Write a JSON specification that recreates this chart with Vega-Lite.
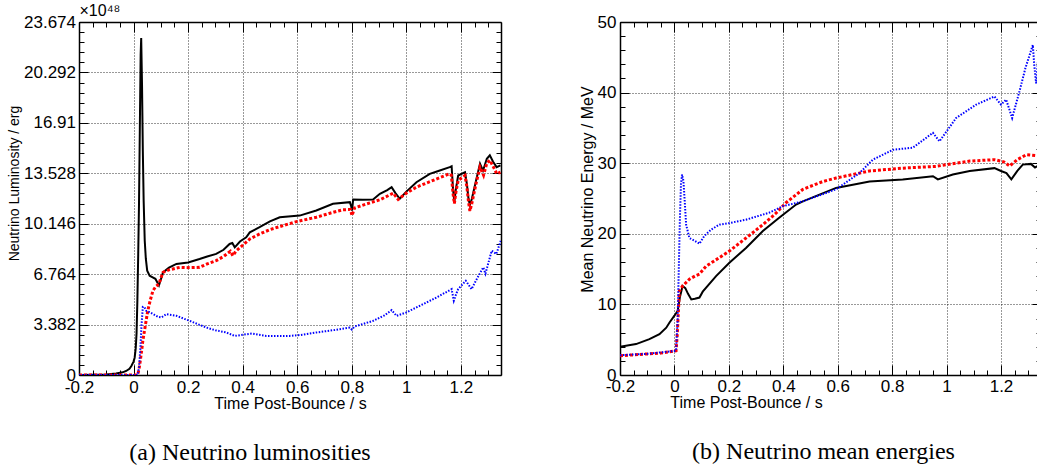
{
  "$schema": "https://vega.github.io/schema/vega-lite/v6.json",
  "padding": {"left": 7, "top": 2, "right": 0, "bottom": 0},
  "background": "white",
  "spacing": 75,
  "config": {"view": {"stroke": null}, "font": "Liberation Sans"},
  "datasets": {
    "lum": [
      {"t": -0.2, "v": 0, "s": "nue"}, {"t": -0.15, "v": 0.01, "s": "nue"}, {"t": -0.1, "v": 0.03, "s": "nue"}, {"t": -0.064, "v": 0.1, "s": "nue"}, {"t": -0.04, "v": 0.18, "s": "nue"}, {"t": -0.027, "v": 0.27, "s": "nue"}, {"t": -0.015, "v": 0.42, "s": "nue"}, {"t": -0.008, "v": 0.6, "s": "nue"}, {"t": 0.0, "v": 0.9, "s": "nue"}, {"t": 0.004, "v": 1.16, "s": "nue"}, {"t": 0.008, "v": 1.8, "s": "nue"}, {"t": 0.011, "v": 2.8, "s": "nue"}, {"t": 0.014, "v": 5.0, "s": "nue"}, {"t": 0.017, "v": 8.0, "s": "nue"}, {"t": 0.02, "v": 11.5, "s": "nue"}, {"t": 0.023, "v": 16.5, "s": "nue"}, {"t": 0.026, "v": 21.5, "s": "nue"}, {"t": 0.028, "v": 22.6, "s": "nue"}, {"t": 0.031, "v": 19.5, "s": "nue"}, {"t": 0.034, "v": 15.0, "s": "nue"}, {"t": 0.037, "v": 11.7, "s": "nue"}, {"t": 0.041, "v": 9.0, "s": "nue"}, {"t": 0.045, "v": 7.8, "s": "nue"}, {"t": 0.05, "v": 7.0, "s": "nue"}, {"t": 0.059, "v": 6.66, "s": "nue"}, {"t": 0.07, "v": 6.55, "s": "nue"}, {"t": 0.08, "v": 6.45, "s": "nue"}, {"t": 0.093, "v": 6.0, "s": "nue"}, {"t": 0.1, "v": 6.4, "s": "nue"}, {"t": 0.108, "v": 6.88, "s": "nue"}, {"t": 0.13, "v": 7.2, "s": "nue"}, {"t": 0.157, "v": 7.45, "s": "nue"}, {"t": 0.2, "v": 7.55, "s": "nue"}, {"t": 0.242, "v": 7.78, "s": "nue"}, {"t": 0.27, "v": 7.95, "s": "nue"}, {"t": 0.303, "v": 8.12, "s": "nue"}, {"t": 0.33, "v": 8.4, "s": "nue"}, {"t": 0.352, "v": 8.79, "s": "nue"}, {"t": 0.362, "v": 8.85, "s": "nue"}, {"t": 0.371, "v": 8.56, "s": "nue"}, {"t": 0.39, "v": 8.95, "s": "nue"}, {"t": 0.413, "v": 9.24, "s": "nue"}, {"t": 0.426, "v": 9.57, "s": "nue"}, {"t": 0.462, "v": 9.91, "s": "nue"}, {"t": 0.5, "v": 10.3, "s": "nue"}, {"t": 0.536, "v": 10.58, "s": "nue"}, {"t": 0.609, "v": 10.69, "s": "nue"}, {"t": 0.67, "v": 11.03, "s": "nue"}, {"t": 0.731, "v": 11.48, "s": "nue"}, {"t": 0.793, "v": 11.59, "s": "nue"}, {"t": 0.798, "v": 11.3, "s": "nue"}, {"t": 0.801, "v": 11.03, "s": "nue"}, {"t": 0.805, "v": 11.77, "s": "nue"}, {"t": 0.84, "v": 11.75, "s": "nue"}, {"t": 0.878, "v": 11.77, "s": "nue"}, {"t": 0.903, "v": 12.15, "s": "nue"}, {"t": 0.93, "v": 12.4, "s": "nue"}, {"t": 0.946, "v": 12.6, "s": "nue"}, {"t": 0.96, "v": 12.2, "s": "nue"}, {"t": 0.976, "v": 11.82, "s": "nue"}, {"t": 1.0, "v": 12.3, "s": "nue"}, {"t": 1.037, "v": 12.93, "s": "nue"}, {"t": 1.086, "v": 13.49, "s": "nue"}, {"t": 1.12, "v": 13.7, "s": "nue"}, {"t": 1.159, "v": 13.94, "s": "nue"}, {"t": 1.166, "v": 14.0, "s": "nue"}, {"t": 1.171, "v": 12.5, "s": "nue"}, {"t": 1.176, "v": 11.6, "s": "nue"}, {"t": 1.181, "v": 12.4, "s": "nue"}, {"t": 1.19, "v": 13.38, "s": "nue"}, {"t": 1.215, "v": 13.6, "s": "nue"}, {"t": 1.222, "v": 12.8, "s": "nue"}, {"t": 1.228, "v": 11.8, "s": "nue"}, {"t": 1.233, "v": 11.4, "s": "nue"}, {"t": 1.24, "v": 11.8, "s": "nue"}, {"t": 1.255, "v": 13.0, "s": "nue"}, {"t": 1.27, "v": 14.17, "s": "nue"}, {"t": 1.281, "v": 13.7, "s": "nue"}, {"t": 1.295, "v": 14.5, "s": "nue"}, {"t": 1.306, "v": 14.73, "s": "nue"}, {"t": 1.318, "v": 14.3, "s": "nue"}, {"t": 1.331, "v": 13.94, "s": "nue"}, {"t": 1.345, "v": 14.06, "s": "nue"},
      {"t": -0.2, "v": 0, "s": "anue"}, {"t": 0.0, "v": 0, "s": "anue"}, {"t": 0.012, "v": 0, "s": "anue"}, {"t": 0.016, "v": 0.05, "s": "anue"}, {"t": 0.022, "v": 0.6, "s": "anue"}, {"t": 0.028, "v": 1.4, "s": "anue"}, {"t": 0.034, "v": 2.29, "s": "anue"}, {"t": 0.043, "v": 3.3, "s": "anue"}, {"t": 0.052, "v": 4.3, "s": "anue"}, {"t": 0.061, "v": 5.0, "s": "anue"}, {"t": 0.071, "v": 5.65, "s": "anue"}, {"t": 0.082, "v": 5.95, "s": "anue"}, {"t": 0.093, "v": 6.1, "s": "anue"}, {"t": 0.1, "v": 6.5, "s": "anue"}, {"t": 0.108, "v": 6.88, "s": "anue"}, {"t": 0.13, "v": 7.05, "s": "anue"}, {"t": 0.169, "v": 7.22, "s": "anue"}, {"t": 0.2, "v": 7.2, "s": "anue"}, {"t": 0.242, "v": 7.22, "s": "anue"}, {"t": 0.27, "v": 7.45, "s": "anue"}, {"t": 0.303, "v": 7.67, "s": "anue"}, {"t": 0.33, "v": 7.95, "s": "anue"}, {"t": 0.355, "v": 8.3, "s": "anue"}, {"t": 0.364, "v": 8.0, "s": "anue"}, {"t": 0.375, "v": 8.3, "s": "anue"}, {"t": 0.4, "v": 8.7, "s": "anue"}, {"t": 0.426, "v": 9.12, "s": "anue"}, {"t": 0.462, "v": 9.46, "s": "anue"}, {"t": 0.5, "v": 9.75, "s": "anue"}, {"t": 0.548, "v": 10.02, "s": "anue"}, {"t": 0.6, "v": 10.3, "s": "anue"}, {"t": 0.67, "v": 10.58, "s": "anue"}, {"t": 0.72, "v": 10.85, "s": "anue"}, {"t": 0.767, "v": 11.08, "s": "anue"}, {"t": 0.795, "v": 11.1, "s": "anue"}, {"t": 0.801, "v": 10.69, "s": "anue"}, {"t": 0.81, "v": 11.2, "s": "anue"}, {"t": 0.85, "v": 11.45, "s": "anue"}, {"t": 0.903, "v": 11.75, "s": "anue"}, {"t": 0.952, "v": 12.2, "s": "anue"}, {"t": 0.97, "v": 11.77, "s": "anue"}, {"t": 1.0, "v": 12.2, "s": "anue"}, {"t": 1.037, "v": 12.6, "s": "anue"}, {"t": 1.098, "v": 13.05, "s": "anue"}, {"t": 1.159, "v": 13.5, "s": "anue"}, {"t": 1.165, "v": 13.4, "s": "anue"}, {"t": 1.171, "v": 12.2, "s": "anue"}, {"t": 1.176, "v": 11.5, "s": "anue"}, {"t": 1.182, "v": 12.3, "s": "anue"}, {"t": 1.19, "v": 13.05, "s": "anue"}, {"t": 1.215, "v": 13.38, "s": "anue"}, {"t": 1.222, "v": 12.6, "s": "anue"}, {"t": 1.228, "v": 11.6, "s": "anue"}, {"t": 1.233, "v": 11.0, "s": "anue"}, {"t": 1.24, "v": 11.5, "s": "anue"}, {"t": 1.255, "v": 12.8, "s": "anue"}, {"t": 1.27, "v": 13.94, "s": "anue"}, {"t": 1.283, "v": 13.4, "s": "anue"}, {"t": 1.295, "v": 14.2, "s": "anue"}, {"t": 1.306, "v": 14.4, "s": "anue"}, {"t": 1.318, "v": 14.0, "s": "anue"}, {"t": 1.331, "v": 13.5, "s": "anue"}, {"t": 1.345, "v": 13.6, "s": "anue"},
      {"t": -0.2, "v": 0, "s": "nux"}, {"t": 0.0, "v": 0, "s": "nux"}, {"t": 0.015, "v": 0, "s": "nux"}, {"t": 0.02, "v": 0.5, "s": "nux"}, {"t": 0.025, "v": 1.8, "s": "nux"}, {"t": 0.029, "v": 3.3, "s": "nux"}, {"t": 0.034, "v": 4.57, "s": "nux"}, {"t": 0.04, "v": 4.55, "s": "nux"}, {"t": 0.047, "v": 4.3, "s": "nux"}, {"t": 0.06, "v": 4.2, "s": "nux"}, {"t": 0.075, "v": 4.05, "s": "nux"}, {"t": 0.09, "v": 3.9, "s": "nux"}, {"t": 0.102, "v": 3.86, "s": "nux"}, {"t": 0.12, "v": 4.08, "s": "nux"}, {"t": 0.157, "v": 3.97, "s": "nux"}, {"t": 0.206, "v": 3.63, "s": "nux"}, {"t": 0.267, "v": 3.18, "s": "nux"}, {"t": 0.3, "v": 3.0, "s": "nux"}, {"t": 0.34, "v": 2.85, "s": "nux"}, {"t": 0.371, "v": 2.62, "s": "nux"}, {"t": 0.4, "v": 2.7, "s": "nux"}, {"t": 0.435, "v": 2.78, "s": "nux"}, {"t": 0.487, "v": 2.62, "s": "nux"}, {"t": 0.572, "v": 2.62, "s": "nux"}, {"t": 0.62, "v": 2.7, "s": "nux"}, {"t": 0.67, "v": 2.85, "s": "nux"}, {"t": 0.73, "v": 3.0, "s": "nux"}, {"t": 0.793, "v": 3.18, "s": "nux"}, {"t": 0.8, "v": 3.05, "s": "nux"}, {"t": 0.81, "v": 3.25, "s": "nux"}, {"t": 0.878, "v": 3.63, "s": "nux"}, {"t": 0.92, "v": 4.0, "s": "nux"}, {"t": 0.946, "v": 4.35, "s": "nux"}, {"t": 0.964, "v": 3.97, "s": "nux"}, {"t": 1.0, "v": 4.2, "s": "nux"}, {"t": 1.037, "v": 4.53, "s": "nux"}, {"t": 1.111, "v": 5.2, "s": "nux"}, {"t": 1.166, "v": 5.76, "s": "nux"}, {"t": 1.174, "v": 4.98, "s": "nux"}, {"t": 1.182, "v": 5.4, "s": "nux"}, {"t": 1.19, "v": 5.76, "s": "nux"}, {"t": 1.218, "v": 6.32, "s": "nux"}, {"t": 1.239, "v": 5.76, "s": "nux"}, {"t": 1.26, "v": 6.5, "s": "nux"}, {"t": 1.282, "v": 7.22, "s": "nux"}, {"t": 1.29, "v": 6.8, "s": "nux"}, {"t": 1.313, "v": 8.34, "s": "nux"}, {"t": 1.33, "v": 8.12, "s": "nux"}, {"t": 1.346, "v": 9.0, "s": "nux"}
    ],
    "en": [
      {"t": -0.2, "v": 4.0, "s": "nue"}, {"t": -0.141, "v": 4.38, "s": "nue"}, {"t": -0.092, "v": 5.08, "s": "nue"}, {"t": -0.055, "v": 5.79, "s": "nue"}, {"t": -0.03, "v": 6.7, "s": "nue"}, {"t": -0.018, "v": 7.44, "s": "nue"}, {"t": 0.0, "v": 8.4, "s": "nue"}, {"t": 0.012, "v": 9.08, "s": "nue"}, {"t": 0.02, "v": 11.0, "s": "nue"}, {"t": 0.03, "v": 12.6, "s": "nue"}, {"t": 0.04, "v": 12.3, "s": "nue"}, {"t": 0.05, "v": 11.5, "s": "nue"}, {"t": 0.062, "v": 10.7, "s": "nue"}, {"t": 0.075, "v": 10.8, "s": "nue"}, {"t": 0.092, "v": 10.97, "s": "nue"}, {"t": 0.104, "v": 11.8, "s": "nue"}, {"t": 0.153, "v": 14.0, "s": "nue"}, {"t": 0.202, "v": 15.9, "s": "nue"}, {"t": 0.263, "v": 18.0, "s": "nue"}, {"t": 0.325, "v": 20.4, "s": "nue"}, {"t": 0.386, "v": 22.3, "s": "nue"}, {"t": 0.447, "v": 24.15, "s": "nue"}, {"t": 0.472, "v": 24.6, "s": "nue"}, {"t": 0.594, "v": 26.5, "s": "nue"}, {"t": 0.717, "v": 27.4, "s": "nue"}, {"t": 0.839, "v": 27.7, "s": "nue"}, {"t": 0.95, "v": 28.15, "s": "nue"}, {"t": 0.968, "v": 27.7, "s": "nue"}, {"t": 1.023, "v": 28.4, "s": "nue"}, {"t": 1.085, "v": 28.9, "s": "nue"}, {"t": 1.176, "v": 29.3, "s": "nue"}, {"t": 1.2, "v": 28.9, "s": "nue"}, {"t": 1.22, "v": 28.6, "s": "nue"}, {"t": 1.238, "v": 27.7, "s": "nue"}, {"t": 1.26, "v": 28.9, "s": "nue"}, {"t": 1.28, "v": 29.8, "s": "nue"}, {"t": 1.31, "v": 29.9, "s": "nue"}, {"t": 1.325, "v": 29.4, "s": "nue"}, {"t": 1.345, "v": 29.8, "s": "nue"},
      {"t": -0.2, "v": 2.73, "s": "anue"}, {"t": -0.104, "v": 2.97, "s": "anue"}, {"t": -0.05, "v": 3.1, "s": "anue"}, {"t": 0.006, "v": 3.43, "s": "anue"}, {"t": 0.01, "v": 5.5, "s": "anue"}, {"t": 0.014, "v": 8.5, "s": "anue"}, {"t": 0.018, "v": 11.9, "s": "anue"}, {"t": 0.03, "v": 12.6, "s": "anue"}, {"t": 0.055, "v": 13.56, "s": "anue"}, {"t": 0.075, "v": 14.0, "s": "anue"}, {"t": 0.092, "v": 14.3, "s": "anue"}, {"t": 0.116, "v": 15.4, "s": "anue"}, {"t": 0.16, "v": 16.5, "s": "anue"}, {"t": 0.202, "v": 17.56, "s": "anue"}, {"t": 0.263, "v": 19.4, "s": "anue"}, {"t": 0.325, "v": 21.3, "s": "anue"}, {"t": 0.37, "v": 22.8, "s": "anue"}, {"t": 0.41, "v": 24.4, "s": "anue"}, {"t": 0.472, "v": 26.3, "s": "anue"}, {"t": 0.545, "v": 27.4, "s": "anue"}, {"t": 0.594, "v": 27.9, "s": "anue"}, {"t": 0.717, "v": 28.9, "s": "anue"}, {"t": 0.839, "v": 29.3, "s": "anue"}, {"t": 0.961, "v": 29.55, "s": "anue"}, {"t": 1.085, "v": 30.3, "s": "anue"}, {"t": 1.176, "v": 30.5, "s": "anue"}, {"t": 1.21, "v": 30.2, "s": "anue"}, {"t": 1.232, "v": 29.6, "s": "anue"}, {"t": 1.26, "v": 30.5, "s": "anue"}, {"t": 1.293, "v": 31.2, "s": "anue"}, {"t": 1.345, "v": 31.0, "s": "anue"},
      {"t": -0.2, "v": 2.8, "s": "nux"}, {"t": -0.1, "v": 3.0, "s": "nux"}, {"t": 0.0, "v": 3.4, "s": "nux"}, {"t": 0.006, "v": 3.5, "s": "nux"}, {"t": 0.012, "v": 8.0, "s": "nux"}, {"t": 0.016, "v": 15.0, "s": "nux"}, {"t": 0.02, "v": 22.0, "s": "nux"}, {"t": 0.024, "v": 27.0, "s": "nux"}, {"t": 0.028, "v": 28.4, "s": "nux"}, {"t": 0.033, "v": 27.5, "s": "nux"}, {"t": 0.038, "v": 24.5, "s": "nux"}, {"t": 0.043, "v": 21.3, "s": "nux"}, {"t": 0.055, "v": 19.4, "s": "nux"}, {"t": 0.075, "v": 19.0, "s": "nux"}, {"t": 0.092, "v": 18.6, "s": "nux"}, {"t": 0.11, "v": 19.7, "s": "nux"}, {"t": 0.135, "v": 20.6, "s": "nux"}, {"t": 0.165, "v": 21.3, "s": "nux"}, {"t": 0.2, "v": 21.5, "s": "nux"}, {"t": 0.263, "v": 22.0, "s": "nux"}, {"t": 0.349, "v": 23.0, "s": "nux"}, {"t": 0.398, "v": 23.9, "s": "nux"}, {"t": 0.472, "v": 24.6, "s": "nux"}, {"t": 0.594, "v": 26.3, "s": "nux"}, {"t": 0.68, "v": 28.6, "s": "nux"}, {"t": 0.729, "v": 30.5, "s": "nux"}, {"t": 0.803, "v": 31.9, "s": "nux"}, {"t": 0.876, "v": 32.2, "s": "nux"}, {"t": 0.95, "v": 34.3, "s": "nux"}, {"t": 0.974, "v": 33.1, "s": "nux"}, {"t": 1.035, "v": 36.4, "s": "nux"}, {"t": 1.109, "v": 38.3, "s": "nux"}, {"t": 1.176, "v": 39.45, "s": "nux"}, {"t": 1.2, "v": 38.3, "s": "nux"}, {"t": 1.219, "v": 39.0, "s": "nux"}, {"t": 1.241, "v": 36.4, "s": "nux"}, {"t": 1.268, "v": 40.2, "s": "nux"}, {"t": 1.29, "v": 43.5, "s": "nux"}, {"t": 1.317, "v": 46.75, "s": "nux"}, {"t": 1.322, "v": 44.0, "s": "nux"}, {"t": 1.329, "v": 41.3, "s": "nux"}, {"t": 1.337, "v": 45.0, "s": "nux"}, {"t": 1.345, "v": 44.5, "s": "nux"}
    ]
  },
  "hconcat": [
    {
      "width": 422,
      "height": 353,
      "data": {"name": "lum"},
      "title": {"text": "(a) Neutrino luminosities", "orient": "bottom", "frame": "group", "anchor": "middle", "dx": -40, "offset": 30, "font": "Liberation Serif", "fontSize": 24, "fontWeight": "normal", "color": "black"},
      "resolve": {"axis": {"x": "independent", "y": "independent"}},
      "layer": [
        {
          "transform": [{"filter": "datum.s === 'nue'"}],
          "mark": {"type": "line", "color": "black", "strokeWidth": 2, "clip": true},
          "encoding": {
            "x": {"field": "t", "type": "quantitative", "scale": {"domain": [-0.2, 1.347], "nice": false, "zero": false},
              "axis": {"orient": "bottom", "values": [-0.2, 0, 0.2, 0.4, 0.6, 0.8, 1, 1.2], "labelExpr": "'' + datum.value", "labelFont": "Liberation Sans", "labelFontSize": 17, "labelColor": "black", "labelPadding": 14, "labelFlush": false, "labelOverlap": false, "tickSize": -10, "tickColor": "black", "tickWidth": 1, "domainColor": "black", "domainWidth": 1.5, "grid": true, "gridColor": "black", "gridDash": [1, 2], "gridWidth": 1, "gridOpacity": 0.8, "title": "Time Post-Bounce / s", "titleFont": "Liberation Sans", "titleFontSize": 16, "titleFontWeight": "normal", "titleColor": "black", "titlePadding": 0}},
            "y": {"field": "v", "type": "quantitative", "scale": {"domain": [0, 23.674], "nice": false, "zero": false},
              "axis": {"orient": "left", "values": [0, 3.382, 6.764, 10.146, 13.528, 16.91, 20.292, 23.674], "labelExpr": "'' + datum.value", "labelFont": "Liberation Sans", "labelFontSize": 17, "labelColor": "black", "labelPadding": 12.5, "labelOverlap": false, "tickSize": -9, "tickColor": "black", "tickWidth": 1, "domainColor": "black", "domainWidth": 1.5, "grid": true, "gridColor": "black", "gridDash": [1, 2], "gridWidth": 1, "gridOpacity": 0.8, "title": "Neutrino Luminosity / erg", "titleY": 161, "titleFont": "Liberation Sans", "titleFontSize": 14, "titleFontWeight": "normal", "titleColor": "black", "titlePadding": 2}}
          }
        },
        {
          "transform": [{"filter": "datum.s === 'anue'"}],
          "mark": {"type": "line", "color": "#ff0000", "strokeWidth": 3, "strokeDash": [3, 2], "clip": true},
          "encoding": {
            "x": {"field": "t", "type": "quantitative", "scale": {"domain": [-0.2, 1.347], "nice": false, "zero": false}, "axis": null},
            "y": {"field": "v", "type": "quantitative", "scale": {"domain": [0, 23.674], "nice": false, "zero": false}, "axis": null}
          }
        },
        {
          "transform": [{"filter": "datum.s === 'nux'"}],
          "mark": {"type": "line", "color": "#0000ff", "strokeWidth": 2, "strokeDash": [1.5, 1.5], "clip": true},
          "encoding": {
            "x": {"field": "t", "type": "quantitative", "scale": {"domain": [-0.2, 1.347], "nice": false, "zero": false}, "axis": null},
            "y": {"field": "v", "type": "quantitative", "scale": {"domain": [0, 23.674], "nice": false, "zero": false}, "axis": null}
          }
        },
        {
          "mark": {"type": "point", "opacity": 0},
          "encoding": {
            "x": {"field": "t", "type": "quantitative", "scale": {"domain": [-0.2, 1.347], "nice": false, "zero": false},
              "axis": {"orient": "bottom", "values": [-0.15, -0.1, -0.05, 0.05, 0.1, 0.15, 0.25, 0.3, 0.35, 0.45, 0.5, 0.55, 0.65, 0.7, 0.75, 0.85, 0.9, 0.95, 1.05, 1.1, 1.15, 1.25, 1.3], "labels": false, "tickSize": -5, "tickColor": "black", "tickWidth": 1, "domain": false, "grid": false, "title": null}},
            "y": {"field": "v", "type": "quantitative", "scale": {"domain": [0, 23.674], "nice": false, "zero": false},
              "axis": {"orient": "left", "values": [0.6764, 1.3528, 2.0292, 2.7056, 4.0584, 4.7348, 5.4112, 6.0876, 7.4404, 8.1168, 8.7932, 9.4696, 10.8224, 11.4988, 12.1752, 12.8516, 14.2044, 14.8808, 15.5572, 16.2336, 17.5864, 18.2628, 18.9392, 19.6156, 20.9684, 21.6448, 22.3212, 22.9976], "labels": false, "tickSize": -5, "tickColor": "black", "tickWidth": 1, "domain": false, "grid": false, "title": null}}
          }
        },
        {
          "mark": {"type": "point", "opacity": 0},
          "encoding": {
            "x": {"field": "t", "type": "quantitative", "scale": {"domain": [-0.2, 1.347], "nice": false, "zero": false},
              "axis": {"orient": "top", "values": [-0.2, 0, 0.2, 0.4, 0.6, 0.8, 1, 1.2], "labels": false, "tickSize": -10, "tickColor": "black", "tickWidth": 1, "domainColor": "black", "domainWidth": 1.5, "grid": false, "title": "×10⁴⁸", "titleAnchor": "start", "titleAlign": "left", "titleFont": "Liberation Sans", "titleFontSize": 16, "titleFontWeight": "normal", "titleColor": "black", "titlePadding": 3}},
            "y": {"field": "v", "type": "quantitative", "scale": {"domain": [0, 23.674], "nice": false, "zero": false},
              "axis": {"orient": "right", "values": [0, 3.382, 6.764, 10.146, 13.528, 16.91, 20.292, 23.674], "labels": false, "tickSize": -9, "tickColor": "black", "tickWidth": 1, "domainColor": "black", "domainWidth": 1.5, "grid": false, "title": null}}
          }
        },
        {
          "mark": {"type": "point", "opacity": 0},
          "encoding": {
            "x": {"field": "t", "type": "quantitative", "scale": {"domain": [-0.2, 1.347], "nice": false, "zero": false},
              "axis": {"orient": "top", "values": [-0.15, -0.1, -0.05, 0.05, 0.1, 0.15, 0.25, 0.3, 0.35, 0.45, 0.5, 0.55, 0.65, 0.7, 0.75, 0.85, 0.9, 0.95, 1.05, 1.1, 1.15, 1.25, 1.3], "labels": false, "tickSize": -5, "tickColor": "black", "tickWidth": 1, "domain": false, "grid": false, "title": null}},
            "y": {"field": "v", "type": "quantitative", "scale": {"domain": [0, 23.674], "nice": false, "zero": false},
              "axis": {"orient": "right", "values": [0.6764, 1.3528, 2.0292, 2.7056, 4.0584, 4.7348, 5.4112, 6.0876, 7.4404, 8.1168, 8.7932, 9.4696, 10.8224, 11.4988, 12.1752, 12.8516, 14.2044, 14.8808, 15.5572, 16.2336, 17.5864, 18.2628, 18.9392, 19.6156, 20.9684, 21.6448, 22.3212, 22.9976], "labels": false, "tickSize": -5, "tickColor": "black", "tickWidth": 1, "domain": false, "grid": false, "title": null}}
          }
        }
      ]
    },
    {
      "width": 421,
      "height": 353,
      "data": {"name": "en"},
      "title": {"text": "(b) Neutrino mean energies", "orient": "bottom", "frame": "group", "anchor": "middle", "dx": -7, "offset": 30, "font": "Liberation Serif", "fontSize": 24, "fontWeight": "normal", "color": "black"},
      "resolve": {"axis": {"x": "independent", "y": "independent"}},
      "layer": [
        {
          "transform": [{"filter": "datum.s === 'nue'"}],
          "mark": {"type": "line", "color": "black", "strokeWidth": 2, "clip": true},
          "encoding": {
            "x": {"field": "t", "type": "quantitative", "scale": {"domain": [-0.2, 1.347], "nice": false, "zero": false},
              "axis": {"orient": "bottom", "values": [-0.2, 0, 0.2, 0.4, 0.6, 0.8, 1, 1.2], "labelExpr": "'' + datum.value", "labelFont": "Liberation Sans", "labelFontSize": 17, "labelColor": "black", "labelPadding": 13, "labelFlush": false, "labelOverlap": false, "tickSize": -10, "tickColor": "black", "tickWidth": 1, "domainColor": "black", "domainWidth": 1.5, "grid": true, "gridColor": "black", "gridDash": [1, 2], "gridWidth": 1, "gridOpacity": 0.8, "title": "Time Post-Bounce / s", "titleX": 126, "titleFont": "Liberation Sans", "titleFontSize": 16, "titleFontWeight": "normal", "titleColor": "black", "titlePadding": 0}},
            "y": {"field": "v", "type": "quantitative", "scale": {"domain": [0, 50], "nice": false, "zero": false},
              "axis": {"orient": "left", "values": [0, 10, 20, 30, 40, 50], "labelExpr": "'' + datum.value", "labelFont": "Liberation Sans", "labelFontSize": 17, "labelColor": "black", "labelPadding": 13, "labelOverlap": false, "tickSize": -9, "tickColor": "black", "tickWidth": 1, "domainColor": "black", "domainWidth": 1.5, "grid": true, "gridColor": "black", "gridDash": [1, 2], "gridWidth": 1, "gridOpacity": 0.8, "title": "Mean Neutrino Energy / MeV", "titleY": 167, "titleFont": "Liberation Sans", "titleFontSize": 16, "titleFontWeight": "normal", "titleColor": "black", "titlePadding": 2}}
          }
        },
        {
          "transform": [{"filter": "datum.s === 'anue'"}],
          "mark": {"type": "line", "color": "#ff0000", "strokeWidth": 3, "strokeDash": [3, 2], "clip": true},
          "encoding": {
            "x": {"field": "t", "type": "quantitative", "scale": {"domain": [-0.2, 1.347], "nice": false, "zero": false}, "axis": null},
            "y": {"field": "v", "type": "quantitative", "scale": {"domain": [0, 50], "nice": false, "zero": false}, "axis": null}
          }
        },
        {
          "transform": [{"filter": "datum.s === 'nux'"}],
          "mark": {"type": "line", "color": "#0000ff", "strokeWidth": 2, "strokeDash": [1.5, 1.5], "clip": true},
          "encoding": {
            "x": {"field": "t", "type": "quantitative", "scale": {"domain": [-0.2, 1.347], "nice": false, "zero": false}, "axis": null},
            "y": {"field": "v", "type": "quantitative", "scale": {"domain": [0, 50], "nice": false, "zero": false}, "axis": null}
          }
        },
        {
          "mark": {"type": "point", "opacity": 0},
          "encoding": {
            "x": {"field": "t", "type": "quantitative", "scale": {"domain": [-0.2, 1.347], "nice": false, "zero": false},
              "axis": {"orient": "bottom", "values": [-0.15, -0.1, -0.05, 0.05, 0.1, 0.15, 0.25, 0.3, 0.35, 0.45, 0.5, 0.55, 0.65, 0.7, 0.75, 0.85, 0.9, 0.95, 1.05, 1.1, 1.15, 1.25, 1.3], "labels": false, "tickSize": -5, "tickColor": "black", "tickWidth": 1, "domain": false, "grid": false, "title": null}},
            "y": {"field": "v", "type": "quantitative", "scale": {"domain": [0, 50], "nice": false, "zero": false},
              "axis": {"orient": "left", "values": [2, 4, 6, 8, 12, 14, 16, 18, 22, 24, 26, 28, 32, 34, 36, 38, 42, 44, 46, 48], "labels": false, "tickSize": -5, "tickColor": "black", "tickWidth": 1, "domain": false, "grid": false, "title": null}}
          }
        },
        {
          "mark": {"type": "point", "opacity": 0},
          "encoding": {
            "x": {"field": "t", "type": "quantitative", "scale": {"domain": [-0.2, 1.347], "nice": false, "zero": false},
              "axis": {"orient": "top", "values": [-0.2, 0, 0.2, 0.4, 0.6, 0.8, 1, 1.2], "labels": false, "tickSize": -10, "tickColor": "black", "tickWidth": 1, "domainColor": "black", "domainWidth": 1.5, "grid": false, "title": null}},
            "y": {"field": "v", "type": "quantitative", "scale": {"domain": [0, 50], "nice": false, "zero": false},
              "axis": {"orient": "right", "values": [0, 10, 20, 30, 40, 50], "labels": false, "tickSize": -9, "tickColor": "black", "tickWidth": 1, "domainColor": "black", "domainWidth": 1.5, "grid": false, "title": null}}
          }
        },
        {
          "mark": {"type": "point", "opacity": 0},
          "encoding": {
            "x": {"field": "t", "type": "quantitative", "scale": {"domain": [-0.2, 1.347], "nice": false, "zero": false},
              "axis": {"orient": "top", "values": [-0.15, -0.1, -0.05, 0.05, 0.1, 0.15, 0.25, 0.3, 0.35, 0.45, 0.5, 0.55, 0.65, 0.7, 0.75, 0.85, 0.9, 0.95, 1.05, 1.1, 1.15, 1.25, 1.3], "labels": false, "tickSize": -5, "tickColor": "black", "tickWidth": 1, "domain": false, "grid": false, "title": null}},
            "y": {"field": "v", "type": "quantitative", "scale": {"domain": [0, 50], "nice": false, "zero": false},
              "axis": {"orient": "right", "values": [2, 4, 6, 8, 12, 14, 16, 18, 22, 24, 26, 28, 32, 34, 36, 38, 42, 44, 46, 48], "labels": false, "tickSize": -5, "tickColor": "black", "tickWidth": 1, "domain": false, "grid": false, "title": null}}
          }
        }
      ]
    }
  ]
}
